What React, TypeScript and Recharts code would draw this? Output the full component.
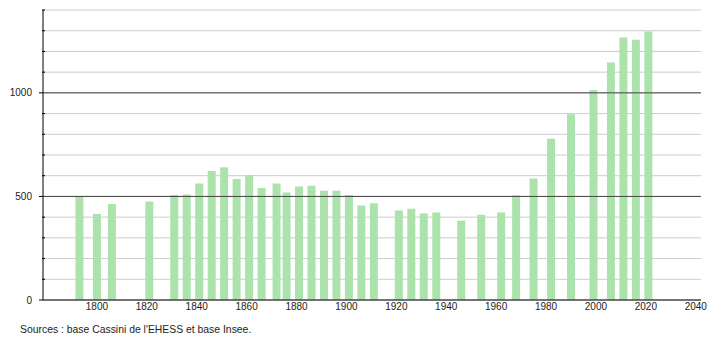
import React from "react";
import { ComposedChart, Bar, XAxis, YAxis, CartesianGrid, ReferenceLine } from "recharts";

const years = [1793, 1800, 1806, 1821, 1831, 1836, 1841, 1846, 1851, 1856, 1861, 1866, 1872, 1876, 1881, 1886, 1891, 1896, 1901, 1906, 1911, 1921, 1926, 1931, 1936, 1946, 1954, 1962, 1968, 1975, 1982, 1990, 1999, 2006, 2011, 2016, 2021];
const population = [497, 415, 464, 475, 507, 509, 563, 623, 641, 584, 604, 541, 563, 519, 548, 552, 527, 527, 507, 456, 467, 432, 441, 417, 422, 383, 412, 422, 506, 586, 778, 897, 1014, 1146, 1267, 1256, 1296];
const xTicks = [1800, 1820, 1840, 1860, 1880, 1900, 1920, 1940, 1960, 1980, 2000, 2020, 2040];
const yTicks = [0, 100, 200, 300, 400, 500, 600, 700, 800, 900, 1000, 1100, 1200, 1300, 1400];
const yLabels = [0, 500, 1000];
const sourceText = "Sources : base Cassini de l'EHESS et base Insee.";

const data = years.map((y, i) => ({ year: y, pop: population[i] }));

const FONT = "'Liberation Sans', Arial, sans-serif";

const YTick = (props: any) => {
  const { x, y, payload } = props;
  const major = yLabels.includes(payload.value);
  return (
    <g>
      {major ? (
        <line x1={x - 4} x2={x} y1={y} y2={y} stroke="#000" strokeWidth={1} />
      ) : (
        <line x1={x - 1} x2={x + 2} y1={y} y2={y} stroke="#000" strokeWidth={1} />
      )}
      {major && (
        <text x={x - 11} y={y} dy="0.35em" textAnchor="end" fontSize={10} fill="#222" fontFamily={FONT}>
          {payload.value}
        </text>
      )}
    </g>
  );
};

export default function App() {
  return (
    <div style={{ position: "absolute", left: 0, top: 0, width: 710, height: 340, background: "#fff" }}>
      <ComposedChart width={710} height={340} data={data} margin={{ top: 10, right: 9, left: 0, bottom: 0 }}>
        <CartesianGrid vertical={false} stroke="#cccccc" strokeWidth={1} />
        <XAxis
          dataKey="year"
          type="number"
          domain={[1778.4, 2042.1]}
          ticks={xTicks}
          allowDataOverflow
          height={40}
          tickLine={false}
          tickSize={0}
          tickMargin={3}
          axisLine={{ stroke: "#000", strokeWidth: 1 }}
          tick={{ fontSize: 10, fill: "#222", fontFamily: FONT }}
          interval={0}
        />
        <YAxis
          type="number"
          domain={[0, 1400]}
          ticks={yTicks}
          width={43}
          interval={0}
          tickLine={false}
          tickSize={0}
          tickMargin={0}
          axisLine={{ stroke: "#000", strokeWidth: 1 }}
          tick={<YTick />}
        />
        <ReferenceLine y={500} stroke="#444" strokeWidth={1} />
        <ReferenceLine y={1000} stroke="#444" strokeWidth={1} />
        <Bar dataKey="pop" fill="#ace3ac" barSize={8} isAnimationActive={false} />
      </ComposedChart>
      <div
        style={{
          position: "absolute",
          left: 20,
          top: 324,
          fontFamily: FONT,
          fontSize: 10.4,
          color: "#222",
          whiteSpace: "nowrap",
        }}
      >
        {sourceText}
      </div>
    </div>
  );
}
